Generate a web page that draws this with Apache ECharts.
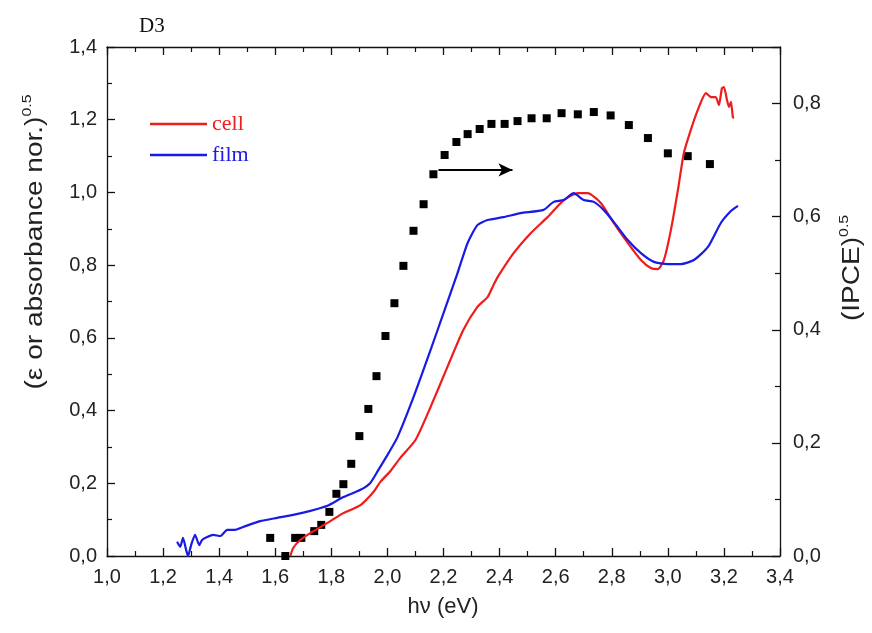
<!DOCTYPE html>
<html>
<head>
<meta charset="utf-8">
<script src="https://cdn.jsdelivr.net/npm/echarts@6/dist/echarts.min.js"></script>
<style>html,body{margin:0;padding:0;background:#fff}#c{width:872px;height:633px}</style>
</head>
<body>
<div id="c"></div>
<script>
// ---- data ----
const cellX = [1.654,1.664,1.689,1.725,1.786,1.843,1.904,1.950,1.975,2.011,2.046,2.100,2.154,2.214,2.271,2.321,2.357,2.375,2.393,2.450,2.511,2.571,2.629,2.679,2.714,2.761,2.807,2.857,2.904,2.939,2.964,2.986,3.011,3.036,3.057,3.082,3.107,3.136,3.154,3.171,3.182,3.193,3.200,3.211,3.218,3.225,3.232,3.236];
const cellY = [0.000,0.022,0.044,0.063,0.091,0.118,0.140,0.176,0.204,0.234,0.270,0.319,0.410,0.520,0.622,0.685,0.712,0.740,0.767,0.833,0.888,0.932,0.979,0.998,0.998,0.971,0.916,0.861,0.814,0.792,0.789,0.814,0.897,1.007,1.108,1.172,1.227,1.273,1.262,1.262,1.240,1.287,1.290,1.254,1.235,1.249,1.207,1.205];
const filmX = [1.250,1.261,1.271,1.282,1.289,1.300,1.314,1.329,1.339,1.357,1.379,1.404,1.429,1.457,1.486,1.546,1.607,1.664,1.725,1.786,1.843,1.904,1.939,1.968,2.004,2.036,2.093,2.154,2.200,2.250,2.286,2.321,2.357,2.414,2.475,2.557,2.593,2.629,2.664,2.700,2.736,2.771,2.807,2.857,2.904,2.950,3.000,3.046,3.093,3.143,3.189,3.225,3.250];
const filmY = [0.039,0.025,0.050,0.017,0.000,0.030,0.058,0.030,0.044,0.052,0.058,0.055,0.072,0.072,0.080,0.096,0.105,0.113,0.124,0.138,0.162,0.182,0.201,0.237,0.283,0.327,0.437,0.567,0.668,0.778,0.861,0.910,0.924,0.932,0.943,0.952,0.974,0.979,0.998,0.979,0.974,0.952,0.919,0.869,0.833,0.809,0.803,0.803,0.814,0.850,0.916,0.949,0.963];
const ipceX = [1.582,1.636,1.671,1.693,1.739,1.764,1.793,1.818,1.843,1.871,1.900,1.932,1.961,1.993,2.025,2.057,2.093,2.129,2.164,2.204,2.246,2.286,2.329,2.371,2.418,2.464,2.514,2.568,2.621,2.679,2.736,2.796,2.861,2.929,3.000,3.071,3.150];
const ipceY = [0.032,0.000,0.032,0.032,0.044,0.055,0.078,0.110,0.127,0.163,0.212,0.260,0.318,0.389,0.447,0.513,0.575,0.622,0.675,0.709,0.732,0.746,0.755,0.764,0.764,0.769,0.774,0.774,0.783,0.781,0.785,0.779,0.762,0.739,0.712,0.707,0.693];
const arrowFrom = [2.182, 1.062];
const arrowTo = [2.446, 1.062];
const xTicks = {min: 1.0, max: 3.4, interval: 0.2};
const yLeftTicks = {min: 0, max: 1.4, interval: 0.2};
const yRightTicks = {min: 0, max: 0.9, interval: 0.2};

const zip = (xs, ys) => xs.map((x, i) => [x, ys[i]]);
const fmt = v => Number(v).toFixed(1).replace('.', ',');
const RED = '#f01c1c', BLUE = '#1a1ae6';
const sans = 'Liberation Sans, Arial, sans-serif';
const serif = 'Liberation Serif, Times New Roman, serif';

const axisLine = {show: true, onZero: false, lineStyle: {color: '#111', width: 1.3}};
const tick = {show: true, inside: true, length: 8, lineStyle: {color: '#111', width: 1.3}};
const minor = {show: true, splitNumber: 2, length: 5, lineStyle: {color: '#111', width: 1.2}};
const lbl = {color: '#222', fontSize: 20, fontFamily: sans, formatter: fmt};

const chart = echarts.init(document.getElementById('c'));
chart.setOption({
  animation: false,
  backgroundColor: '#fff',
  grid: {left: 107, right: 92, top: 47, bottom: 77},
  legend: {
    orient: 'vertical', left: 150, top: 113, itemGap: 9, padding: 0,
    icon: 'rect', itemWidth: 57, itemHeight: 2.5,
    textStyle: {fontFamily: serif, fontSize: 22},
    data: [
      {name: 'cell', textStyle: {color: RED}},
      {name: 'film', textStyle: {color: BLUE}}
    ]
  },
  xAxis: [
    {type: 'value', ...xTicks, position: 'bottom', axisLine, axisTick: tick, minorTick: minor,
     splitLine: {show: false}, axisLabel: {...lbl, margin: 11}},
    {type: 'value', ...xTicks, position: 'top', axisLine, axisTick: tick, minorTick: minor,
     splitLine: {show: false}, axisLabel: {show: false}}
  ],
  yAxis: [
    {type: 'value', ...yLeftTicks, position: 'left', axisLine, axisTick: tick, minorTick: minor,
     splitLine: {show: false}, axisLabel: {...lbl, margin: 10}},
    {type: 'value', ...yRightTicks, position: 'right', axisLine, axisTick: tick, minorTick: minor,
     splitLine: {show: false}, axisLabel: {...lbl, margin: 13, showMaxLabel: false}}
  ],
  graphic: [
    {type: 'text', left: 139, top: 16, style: {text: 'D3', font: '21px ' + serif, fill: '#111'}},
    {type: 'text', x: 443, y: 607, style: {text: 'hν (eV)', font: '22px ' + sans, fill: '#222', align: 'center', verticalAlign: 'middle'}},
    {type: 'text', x: 36, y: 242, rotation: Math.PI / 2, scaleX: 1.22,
     style: {text: '{a|(ε or absorbance nor.)}{s|0.5}', align: 'center', verticalAlign: 'middle', fill: '#222',
       rich: {a: {fontSize: 23, fontFamily: sans, fill: '#222', lineHeight: 31},
              s: {fontSize: 13, fontFamily: sans, fill: '#222', verticalAlign: 'top', lineHeight: 14}}}},
    {type: 'text', x: 853, y: 268, rotation: Math.PI / 2, scaleX: 1.22,
     style: {text: '{a|(IPCE)}{s|0.5}', align: 'center', verticalAlign: 'middle', fill: '#222',
       rich: {a: {fontSize: 23, fontFamily: sans, fill: '#222', lineHeight: 31},
              s: {fontSize: 13, fontFamily: sans, fill: '#222', verticalAlign: 'top', lineHeight: 14}}}}
  ],
  series: [
    {name: 'cell', type: 'line', xAxisIndex: 0, yAxisIndex: 0, data: zip(cellX, cellY), showSymbol: false,
     symbol: 'none', smooth: 0.2, color: RED, lineStyle: {color: RED, width: 2.2}},
    {name: 'film', type: 'line', xAxisIndex: 0, yAxisIndex: 0, data: zip(filmX, filmY), showSymbol: false,
     symbol: 'none', smooth: 0.2, color: BLUE, lineStyle: {color: BLUE, width: 2.2}},
    {name: 'IPCE', type: 'scatter', xAxisIndex: 0, yAxisIndex: 1, data: zip(ipceX, ipceY),
     symbol: 'rect', symbolSize: 8, itemStyle: {color: '#000', opacity: 1}},
    {name: 'arrow', type: 'line', xAxisIndex: 0, yAxisIndex: 0, data: [], silent: true,
     markLine: {silent: true, symbol: ['none', 'arrow'], symbolSize: [10, 14], label: {show: false},
       lineStyle: {color: '#000', width: 2, type: 'solid'},
       data: [[{coord: arrowFrom}, {coord: arrowTo}]]}}
  ]
});
</script>
</body>
</html>
